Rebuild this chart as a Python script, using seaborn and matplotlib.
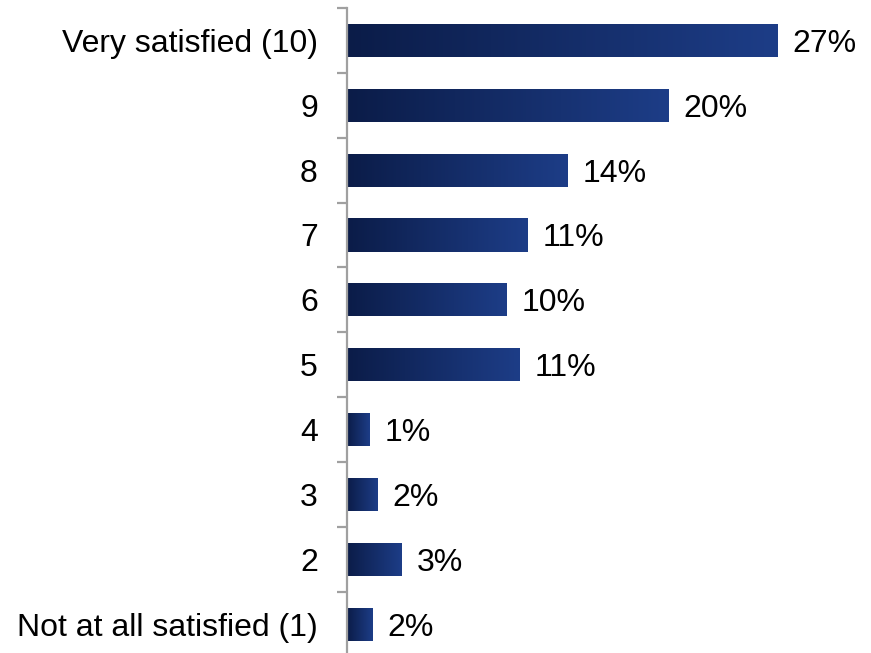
import matplotlib
matplotlib.use("Agg")
import matplotlib.pyplot as plt
import numpy as np
import pandas as pd
import seaborn as sns
from matplotlib.colors import LinearSegmentedColormap

# Satisfaction ratings, top (10) to bottom (1); shares in percent
categories = ["Very satisfied (10)", "9", "8", "7", "6", "5", "4", "3", "2",
              "Not at all satisfied (1)"]
shares = [27.0, 20.15, 13.8, 11.3, 10.0, 10.8, 1.4, 1.9, 3.4, 1.6]

df = pd.DataFrame({"rating": categories, "share": shares})

sns.set_style("white")
plt.rcParams["font.family"] = ["Liberation Sans", "DejaVu Sans"]

fig = plt.figure(figsize=(8.71, 6.53), dpi=100)
ax = fig.add_axes([347 / 871, -3.5 / 653, 523 / 871, 648.5 / 653])

sns.barplot(data=df, x="share", y="rating", order=categories, orient="h",
            width=0.51, color="#1c3c84", ax=ax)

ax.set_xlim(0, 32.8)
ax.set_ylim(len(categories) - 0.5, -0.5)

# Horizontal navy gradient inside every bar
grad = LinearSegmentedColormap.from_list("navy", ["#0b1c48", "#1d3d87"])
ramp = np.linspace(0, 1, 256).reshape(1, -1)
for patch, val in zip(ax.patches, shares):
    x0, y0 = patch.get_x(), patch.get_y()
    w, h = patch.get_width(), patch.get_height()
    patch.set_facecolor("none")
    patch.set_edgecolor("none")
    im = ax.imshow(ramp, cmap=grad, aspect="auto",
                   extent=(x0, x0 + w, y0 + h, y0), zorder=2,
                   interpolation="bilinear")
    im.set_clip_path(patch)
    ax.annotate(f"{val:.0f}%", xy=(x0 + w, y0 + h / 2),
                xytext=(11, 0), textcoords="offset points",
                ha="left", va="center_baseline", fontsize=23, color="black")

ax.set_xlim(0, 32.8)
ax.set_ylim(len(categories) - 0.5, -0.5)

# Axis styling: only the left spine, ticks between categories
for side in ["top", "right", "bottom"]:
    ax.spines[side].set_visible(False)
ax.spines["left"].set_color("#a0a0a0")
ax.spines["left"].set_linewidth(1.6)
ax.set_xticks([])
ax.set_xlabel("")
ax.set_ylabel("")
ax.set_yticks(np.arange(-0.5, len(categories), 1.0), minor=True)
ax.tick_params(axis="y", which="minor", length=7, width=1.6,
               color="#a0a0a0", direction="out", left=True)
ax.tick_params(axis="y", which="major", length=0, pad=21, labelsize=23,
               labelcolor="black", left=True)
ax.patch.set_alpha(0)

fig.savefig("out.png", dpi=100, facecolor="white")
